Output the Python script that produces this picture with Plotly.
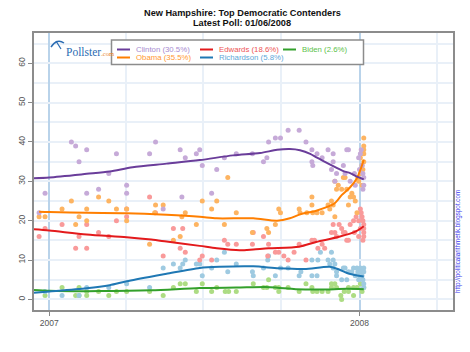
import pandas as pd
import plotly.graph_objects as go

# ---------------- data (days since 2007-01-01, value in %) ----------------
clinton_days = [-12,-5,26,31,35,44,44,58,70,79,91,91,118,125,134,154,156,160,173,177,180,191,197,206,220,239,252,256,258,266,272,281,294,302,309,309,310,315,321,328,332,334,334,336,338,346,348,350,352,354,359,364,366,367,368,369,370,370,369,365,360]
clinton_vals = [22,27,40,39,35,38,27,28,32,37,29,27,37,40,23,38,26,36,37,38,34,27,33,36,37,37,35,36,40,41,41,43,43,40,38,35,34,37,36,38,33,37,35,30,32,34,32,38,38,30,32,36,37,38,34,32,31,29,28,33,29]

obama_days = [-12,-5,15,26,31,35,44,44,58,70,79,91,91,118,124,125,134,146,154,156,160,173,180,191,197,206,210,220,239,256,258,266,270,272,294,295,303,309,309,310,315,321,328,330,332,334,336,338,336,340,344,346,348,350,352,354,356,358,360,362,364,366,366,367,368,369,370,370,370,370,370,368,363]
obama_vals = [21,21,23,25,19,21,23,20,26,25,23,23,20,14,22,24,24,15,16,21,22,19,25,23,25,19,31,22,17,18,17,19,23,22,23,22,22,26,24,22,22,22,24,23,25,24,21,28,30,29,28,31,31,28,24,26,27,26,25,22,30,32,36,37,34,33,35,37,38,39,41,29,31]

edwards_days = [-12,-5,15,31,35,44,44,58,70,79,91,91,118,125,134,146,154,157,160,177,180,191,206,210,220,239,240,252,257,258,266,270,276,281,288,294,302,309,312,316,321,324,332,334,336,338,341,344,346,348,350,352,354,358,359,361,364,366,367,368,369,370,370,370,370,369,366,364]
edwards_vals = [16,18,19,13,16,19,13,17,16,20,23,21,26,22,11,18,13,18,12,10,11,10,15,14,14,14,17,16,11,14,12,12,11,10,12,14,10,15,15,13,14,13,17,19,17,16,19,18,17,17,15,15,19,20,17,21,20,23,22,21,20,19,18,17,16,15,18,16]

richardson_days = [-5,15,35,44,70,91,118,134,146,154,157,160,173,177,180,191,197,206,210,220,239,240,252,257,258,266,272,281,294,296,309,309,315,316,319,328,330,332,334,334,336,338,338,344,346,348,350,352,356,358,360,362,363,364,366,367,368,369,370,370,370,370,365]
richardson_vals = [2,1,1,3,3,4,3,8,9,8,9,10,9,9,6,8,10,12,7,9,7,6,8,10,11,6,8,8,6,7,10,6,6,10,12,10,9,12,10,8,9,7,6,5,8,8,5,7,7,8,6,8,7,5,8,7,6,5,4,3,7,8,6]

biden_days = [-5,15,31,35,35,44,44,58,70,79,91,118,134,146,154,160,173,180,191,197,207,211,220,240,252,256,258,266,270,270,281,294,302,309,310,315,321,328,332,332,336,338,343,344,347,352,352,358,358,362,366,368,370]
biden_vals = [1,3,1,3,1,2,1,2,1,2,2,2,1,3,4,4,2,4,2,3,2,2,2,4,3,3,5,3,3,2,3,2,4,3,2,2,2,2,4,3,4,3,1,0,2,2,3,3,1,3,4,2,3]

# trend (smoothed) lines
clinton_tr_days = [-18,0,44,71,98,138,177,216,248,268,283,295,307,315,330,346,354,362,370]
clinton_tr_vals = [30.8,31.0,31.9,32.5,33.6,34.5,35.4,36.6,37.2,38.0,38.2,37.9,37.0,36.0,34.3,32.6,32.1,31.2,30.5]
obama_tr_days = [-12,0,44,91,138,177,197,240,268,283,295,315,335,344,354,362,367,370]
obama_tr_vals = [22.3,22.2,22.0,21.9,21.5,21.0,20.6,20.6,20.0,20.6,21.6,22.6,24.3,26.5,28.5,30.8,33.5,35.5]
edwards_tr_days = [-18,0,44,91,120,138,177,197,224,240,258,294,314,341,360,370]
edwards_tr_vals = [17.8,17.5,16.5,15.8,15.2,14.7,13.6,13.0,12.5,12.7,13.0,13.4,14.6,15.9,17.2,18.6]
richardson_tr_days = [-18,0,44,71,91,125,138,177,200,240,270,300,330,341,353,370]
richardson_tr_vals = [1.7,2.0,2.8,3.6,4.6,6.0,6.5,8.0,8.3,8.4,7.9,7.7,8.3,7.6,6.5,5.8]
biden_tr_days = [-18,0,60,120,177,220,260,290,320,350,370]
biden_tr_vals = [2.4,2.2,2.1,2.3,2.9,3.0,3.1,2.6,2.5,2.7,2.6]

candidates = ["Clinton", "Obama", "Edwards", "Richardson", "Biden"]
legend_labels = ["Clinton (30.5%)", "Obama (35.5%)", "Edwards (18.6%)", "Richardson (5.8%)", "Biden (2.6%)"]
x_tick_labels = ["2007", "2008"]

base = pd.Timestamp("2007-01-01")
def to_dates(days):
    return [base + pd.Timedelta(days=d) for d in days]

pts = {
    "Clinton": (clinton_days, clinton_vals),
    "Obama": (obama_days, obama_vals),
    "Edwards": (edwards_days, edwards_vals),
    "Richardson": (richardson_days, richardson_vals),
    "Biden": (biden_days, biden_vals),
}
trends = {
    "Clinton": (clinton_tr_days, clinton_tr_vals),
    "Obama": (obama_tr_days, obama_tr_vals),
    "Edwards": (edwards_tr_days, edwards_tr_vals),
    "Richardson": (richardson_tr_days, richardson_tr_vals),
    "Biden": (biden_tr_days, biden_tr_vals),
}
line_col = {"Clinton": "#6a3d9a", "Obama": "#ff7f00", "Edwards": "#e31a1c",
            "Richardson": "#1f78b4", "Biden": "#33a02c"}
pt_col = {"Clinton": "#c6aad8", "Obama": "#fdb462", "Edwards": "#f99a9a",
          "Richardson": "#9ecae1", "Biden": "#addc84"}
txt_col = {"Clinton": "#a88bd0", "Obama": "#ff9933", "Edwards": "#ee5555",
           "Richardson": "#5fa8d8", "Biden": "#5cbf4a"}

fig = go.Figure()
for c in ["Biden", "Richardson", "Edwards", "Obama", "Clinton"]:
    d, v = pts[c]
    fig.add_trace(go.Scatter(x=to_dates(d), y=v, mode="markers",
                             marker=dict(size=5, color=pt_col[c]),
                             showlegend=False, hoverinfo="skip"))
for c in ["Biden", "Richardson", "Edwards", "Obama", "Clinton"]:
    d, v = trends[c]
    fig.add_trace(go.Scatter(x=to_dates(d), y=v, mode="lines",
                             line=dict(color=line_col[c], width=2, shape="spline", smoothing=0.8),
                             showlegend=False, hoverinfo="skip"))

# layout geometry (pixels)
W, H = 470, 352
L, R, T, B = 34, 453, 33, 310
def px(x): return (x - L) / (R - L)
def py(y): return (B - y) / (B - T)

grid_light = "#e9f0f8"
fig.update_layout(
    width=W, height=H,
    margin=dict(l=L, r=W - R, t=T, b=H - B),
    paper_bgcolor="white", plot_bgcolor="white",
    font=dict(family="Arial, Liberation Sans, sans-serif", size=9, color="#555555"),
    showlegend=False,
)
fig.update_xaxes(
    type="date",
    range=["2006-12-14", "2008-04-20"],
    tickmode="array",
    tickvals=["2007-01-01", "2008-01-01"],
    ticktext=x_tick_labels,
    ticks="outside", ticklen=4, tickcolor="#888888",
    tickfont=dict(size=8.5, color="#555555"),
    showgrid=True, gridcolor="#b9d3ea", gridwidth=1.5,
    minor=dict(dtick="M3", tick0="2007-01-01", showgrid=True, gridcolor=grid_light, gridwidth=1.5),
    showline=True, linecolor="#8c8c8c", linewidth=2, mirror=True,
    zeroline=False,
)
fig.update_yaxes(
    range=[-2.7, 67.7],
    tickmode="linear", tick0=0, dtick=10,
    tickangle=-90,
    ticks="outside", ticklen=4, tickcolor="#888888",
    tickfont=dict(size=8.5, color="#555555"),
    showgrid=True, gridcolor=grid_light, gridwidth=1.5,
    minor=dict(dtick=5, tick0=0, showgrid=True, gridcolor=grid_light, gridwidth=1.5),
    showline=True, linecolor="#8c8c8c", linewidth=2, mirror=True,
    zeroline=False,
)

ann = []
# title
ann.append(dict(text="<b>New Hampshire: Top Democratic Contenders</b>", x=px(242), y=py(12.5),
                xref="paper", yref="paper", showarrow=False, font=dict(size=9.2, color="#111111"),
                xanchor="center", yanchor="middle"))
ann.append(dict(text="<b>Latest Poll: 01/06/2008</b>", x=px(242), y=py(23.5),
                xref="paper", yref="paper", showarrow=False, font=dict(size=9.2, color="#111111"),
                xanchor="center", yanchor="middle"))

shapes = []
# legend box
shapes.append(dict(type="rect", xref="paper", yref="paper",
                   x0=px(111.5), x1=px(363.5), y0=py(64.5), y1=py(40),
                   line=dict(color="#8c8c8c", width=1.5), fillcolor="white", layer="above"))
leg_pos = {"Clinton": (117, 49.5), "Obama": (117, 57.5), "Edwards": (200, 49.5),
           "Richardson": (200, 57.5), "Biden": (283, 49.5)}
for c, lab in zip(candidates, legend_labels):
    x0, y0 = leg_pos[c]
    shapes.append(dict(type="line", xref="paper", yref="paper",
                       x0=px(x0), x1=px(x0 + 13), y0=py(y0), y1=py(y0),
                       line=dict(color=line_col[c], width=2), layer="above"))
    ann.append(dict(text=lab, x=px(x0 + 17), y=py(y0), xref="paper", yref="paper",
                    showarrow=False, xanchor="left", yanchor="middle",
                    font=dict(size=7.8, color=txt_col[c])))

# Pollster logo
shapes.append(dict(type="path", xref="paper", yref="paper",
                   path="M {} {} Q {} {} {} {}".format(px(51), py(47), px(57), py(38), px(64), py(43)),
                   line=dict(color="#2b6cb3", width=1.5), layer="above"))
shapes.append(dict(type="path", xref="paper", yref="paper",
                   path="M {} {} L {} {}".format(px(56), py(41), px(61), py(49)),
                   line=dict(color="#2b6cb3", width=1.2), layer="above"))
ann.append(dict(text="Pollster<span style='font-size:6.5px;color:#e8852a'>.com</span>",
                x=px(64), y=py(52), xref="paper", yref="paper", showarrow=False,
                xanchor="left", yanchor="middle",
                font=dict(family="Liberation Serif, DejaVu Serif, serif", size=11.5, color="#2b6cb3")))

# side url
ann.append(dict(text="http://politicalarithmetik.blogspot.com", x=px(458), y=py(241),
                xref="paper", yref="paper", showarrow=False, textangle=-90,
                xanchor="center", yanchor="middle",
                font=dict(size=6.3, color="#3a3aee")))

fig.update_layout(annotations=ann, shapes=shapes)
fig.write_html("out.html")
